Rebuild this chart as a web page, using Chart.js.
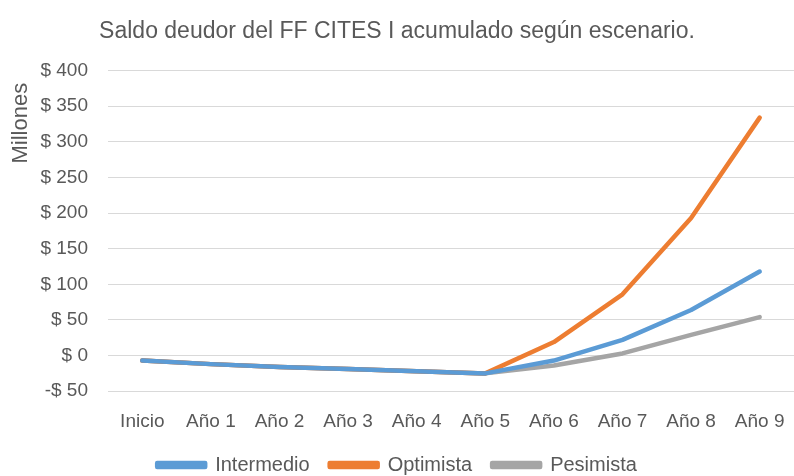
<!DOCTYPE html>
<html><head><meta charset="utf-8">
<script src="https://cdn.jsdelivr.net/npm/chart.js@4"></script>
<style>html,body{margin:0;padding:0;background:#fff;overflow:hidden}#wrap{width:794px;height:476px}</style>
</head><body><div id="wrap"><canvas id="c" width="794" height="476"></canvas></div>
<script>
const categories = ['Inicio','Año 1','Año 2','Año 3','Año 4','Año 5','Año 6','Año 7','Año 8','Año 9'];
const intermedio = [-7, -12, -16, -19, -22, -25, -7, 22, 64, 118];
const optimista  = [-7, -12, -16, -19, -22, -25, 19, 86, 193, 334];
const pesimista  = [-7, -12, -16, -19, -22, -25, -14, 3, 29, 54];
const seriesNames = ['Intermedio','Optimista','Pesimista'];
const colors = ['#5B9BD5','#ED7D31','#A5A5A5'];
const FONT = "'Liberation Sans', Arial, sans-serif";
const TXT = '#595959';

function ds(label, data, color){
  return {label, data, borderColor: color, backgroundColor: color, borderWidth: 4.5,
    pointRadius: 0, tension: 0, borderCapStyle: 'round', borderJoinStyle: 'round', fill: false};
}

new Chart(document.getElementById('c'), {
  type: 'line',
  data: {
    labels: categories,
    datasets: [
      ds(seriesNames[0], intermedio, colors[0]),
      ds(seriesNames[1], optimista, colors[1]),
      ds(seriesNames[2], pesimista, colors[2])
    ]
  },
  options: {
    responsive: false, animation: false,
    layout: {padding: {left: -5, right: -5, top: 8, bottom: -9}},
    plugins: {
      title: {display: true, text: 'Saldo deudor del FF CITES I acumulado según escenario.',
        color: TXT, font: {family: FONT, size: 23, weight: 'normal'}, padding: {top: 10, bottom: 25}},
      legend: {position: 'bottom', labels: {color: TXT, boxWidth: 48, boxHeight: 4,
        font: {family: FONT, size: 20}, padding: 20}},
      tooltip: {enabled: false}
    },
    scales: {
      x: {offset: true, grid: {display: false, drawTicks: false}, border: {display: false},
        afterFit: (s) => { s.paddingLeft = 0; s.paddingRight = 0; s.height = 43.8; },
        ticks: {color: TXT, font: {family: FONT, size: 19}, padding: 19}},
      y: {min: -50, max: 400,
        afterFit: (s) => { s.width = 113; s.paddingBottom = 0; },
        grid: {color: '#D9D9D9', lineWidth: 1, drawTicks: false},
        border: {display: false},
        ticks: {stepSize: 50, color: TXT, padding: 20, font: {family: FONT, size: 19},
          callback: v => (v < 0 ? '-$ ' + Math.abs(v) : '$ ' + v)},
        title: {display: true, text: 'Millones  ', color: TXT, align: 'end',
          font: {family: FONT, size: 22}, padding: {top: 13, bottom: 4}}
      }
    }
  }
});
</script></body></html>
